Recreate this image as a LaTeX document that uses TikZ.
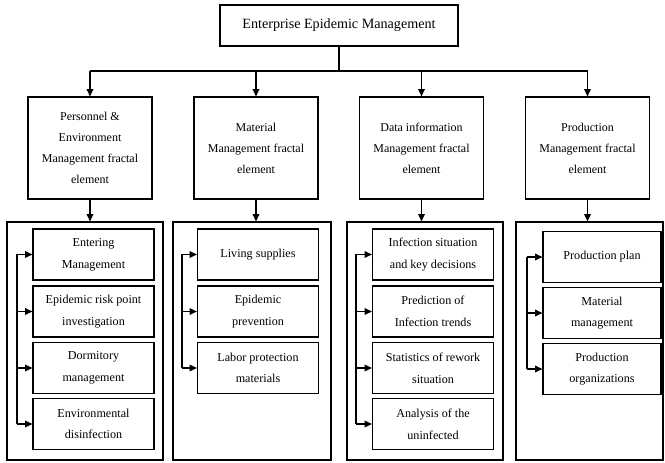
\documentclass[tikz,border=0pt]{standalone}
\usepackage{fontspec}
\setmainfont{Liberation Serif}
\usetikzlibrary{arrows.meta}

\begin{document}
\begin{tikzpicture}[
        x=0.75pt, y=-0.75pt,
        >={Triangle[length=5.5pt,width=5pt]},
        box/.style={draw, line width=0.9pt, inner sep=0pt, align=center},
        head/.style={box, minimum width=178.5pt, minimum height=30.75pt, font=\fontsize{10.6}{13}\selectfont},
        fractal/.style={box, minimum width=93pt, minimum height=76.5pt, font=\fontsize{9}{15.75}\selectfont},
        group frame/.style={draw, line width=0.9pt, inner sep=0pt, minimum height=178.5pt},
        leaf/.style={box, minimum width=90.75pt, minimum height=38.25pt, font=\fontsize{9.1}{16.25}\selectfont},
        link/.style={line width=0.9pt},
    ]
    \useasboundingbox (0,0) rectangle (665,463);

    % top level
    \node[head] (top) at (339,25.5) {Enterprise Epidemic Management};
    \coordinate (split) at (339,71);

    % fractal elements
    \node[fractal] (pe) at (90,148) {Personnel \&\\Environment\\Management fractal\\element};
    \node[fractal] (mat) at (256,148) {Material\\Management fractal\\element};
    \node[fractal] (data) at (421.5,148) {Data information\\Management fractal\\element};
    \node[fractal] (prod) at (587.5,148) {Production\\Management fractal\\element};

    \draw[link] (top.south) -- (split);
    \draw[link] (pe.north |- split) -- (prod.north |- split);
    \draw[link, ->] (pe.north |- split) -- (pe.north);
    \draw[link, ->] (mat.north |- split) -- (mat.north);
    \draw[link, ->] (data.north |- split) -- (data.north);
    \draw[link, ->] (prod.north |- split) -- (prod.north);

    % group frames
    \node[group frame, minimum width=117pt] (peg) at (85,341) {};
    \node[group frame, minimum width=118.5pt] (matg) at (252,341) {};
    \node[group frame, minimum width=117pt] (datag) at (425,341) {};
    \node[group frame, minimum width=110.25pt] (prodg) at (589.5,341) {};

    \draw[link, ->] (pe.south) -- (pe.south |- peg.north);
    \draw[link, ->] (mat.south) -- (mat.south |- matg.north);
    \draw[link, ->] (data.south) -- (data.south |- datag.north);
    \draw[link, ->] (prod.south) -- (prod.south |- prodg.north);

    % personnel & environment
    \node[leaf] (pe1) at (93.5,254.5) {Entering\\Management};
    \node[leaf] (pe2) at (93.5,311.5) {Epidemic risk point\\investigation};
    \node[leaf] (pe3) at (93.5,368) {Dormitory\\management};
    \node[leaf] (pe4) at (93.5,424) {Environmental\\disinfection};
    \coordinate (pebus) at (17,0);
    \draw[link] (pe1.west -| pebus) -- (pe4.west -| pebus);
    \draw[link, ->] (pe1.west -| pebus) -- (pe1.west);
    \draw[link, ->] (pe2.west -| pebus) -- (pe2.west);
    \draw[link, ->] (pe3.west -| pebus) -- (pe3.west);
    \draw[link, ->] (pe4.west -| pebus) -- (pe4.west);

    % material
    \node[leaf] (mat1) at (258,254.5) {Living supplies};
    \node[leaf] (mat2) at (258,311.5) {Epidemic\\prevention};
    \node[leaf] (mat3) at (258,368) {Labor protection\\materials};
    \coordinate (matbus) at (182,0);
    \draw[link] (mat1.west -| matbus) -- (mat3.west -| matbus);
    \draw[link, ->] (mat1.west -| matbus) -- (mat1.west);
    \draw[link, ->] (mat2.west -| matbus) -- (mat2.west);
    \draw[link, ->] (mat3.west -| matbus) -- (mat3.west);

    % data information
    \node[leaf] (data1) at (433,254.5) {Infection situation\\and key decisions};
    \node[leaf] (data2) at (433,311.5) {Prediction of\\Infection trends};
    \node[leaf] (data3) at (433,368) {Statistics of rework\\situation};
    \node[leaf] (data4) at (433,424) {Analysis of the\\uninfected};
    \coordinate (databus) at (356,0);
    \draw[link] (data1.west -| databus) -- (data4.west -| databus);
    \draw[link, ->] (data1.west -| databus) -- (data1.west);
    \draw[link, ->] (data2.west -| databus) -- (data2.west);
    \draw[link, ->] (data3.west -| databus) -- (data3.west);
    \draw[link, ->] (data4.west -| databus) -- (data4.west);

    % production
    \node[leaf, minimum width=88.5pt] (prod1) at (602,257) {Production plan};
    \node[leaf, minimum width=88.5pt] (prod2) at (602,313) {Material\\management};
    \node[leaf, minimum width=88.5pt] (prod3) at (602,369) {Production\\organizations};
    \coordinate (prodbus) at (527,0);
    \draw[link] (prod1.west -| prodbus) -- (prod3.west -| prodbus);
    \draw[link, ->] (prod1.west -| prodbus) -- (prod1.west);
    \draw[link, ->] (prod2.west -| prodbus) -- (prod2.west);
    \draw[link, ->] (prod3.west -| prodbus) -- (prod3.west);
\end{tikzpicture}
\end{document}
